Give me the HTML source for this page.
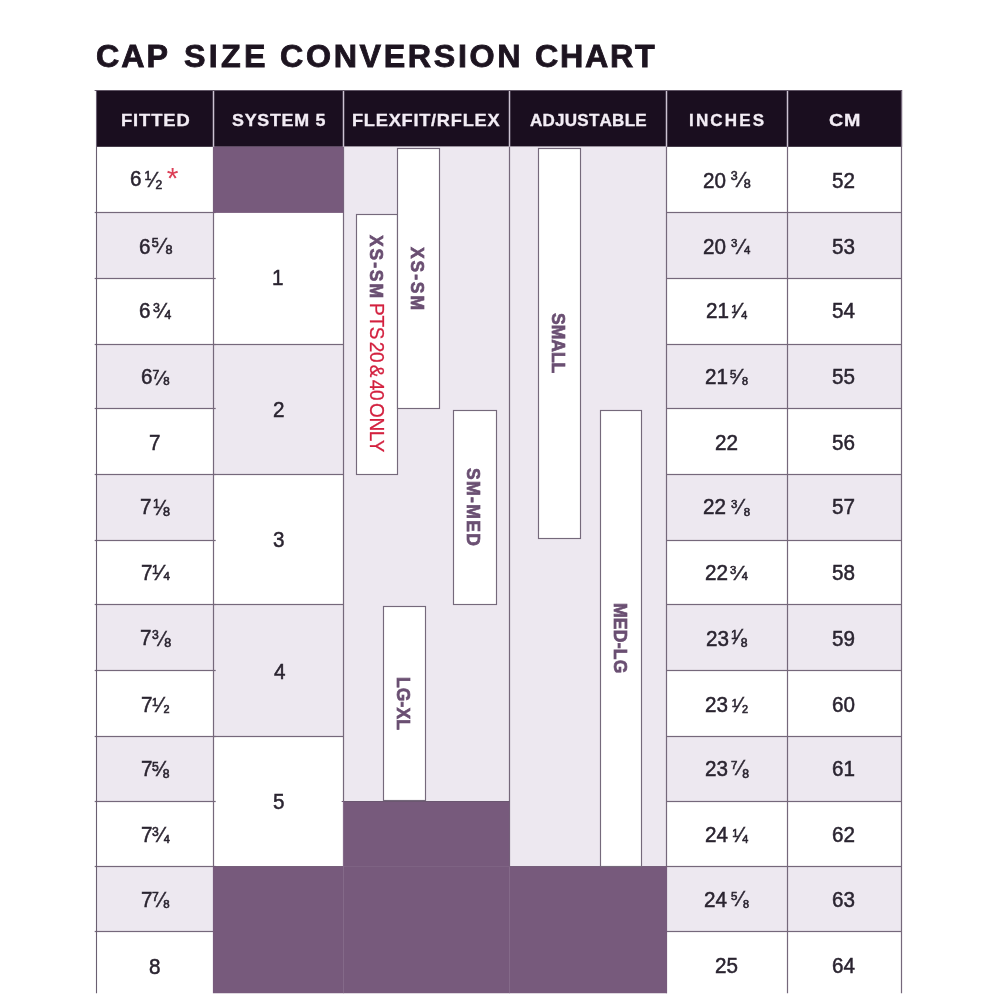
<!DOCTYPE html>
<html lang="en"><head><meta charset="utf-8"><title>Cap Size Conversion Chart</title>
<style>
html,body{margin:0;padding:0;background:#fff;}
body{width:1000px;height:1000px;position:relative;overflow:hidden;font-family:"Liberation Sans",Arial,sans-serif;color:#2a2430;font-kerning:none;}
svg{position:absolute;left:0;top:0;}
h1{position:absolute;margin:0;left:0;top:0;font-size:31px;line-height:31px;font-weight:bold;color:#1d1420;white-space:nowrap;-webkit-text-stroke:.8px #1d1420;}
h1 span{position:absolute;top:40.5px;transform-origin:0 50%;}
.h{position:absolute;top:109.5px;-webkit-text-stroke:.3px #f3edf5;height:20px;line-height:20px;color:#f3edf5;font-weight:bold;font-size:16.4px;white-space:nowrap;transform-origin:0 50%;}
.d,.n,.s{position:absolute;white-space:nowrap;transform-origin:0 0;-webkit-text-stroke:.5px #2a2430;}
.n{-webkit-text-stroke:.6px #2a2430;}
.s{-webkit-text-stroke:.45px #2a2430;}
.v{position:absolute;display:flex;align-items:center;justify-content:center;writing-mode:vertical-rl;white-space:nowrap;font-weight:bold;font-size:17.5px;line-height:20px;color:#6a4f72;-webkit-text-stroke:.65px #6a4f72;}
.red{color:#d3213f;}
.star{color:#dc3f56;}
</style></head><body>

<svg width="1000" height="1000" viewBox="0 0 1000 1000">
<rect x="96.40" y="90.50" width="805.70" height="56.30" fill="#1a0e1f"/>
<rect x="96.20" y="212.50" width="117.30" height="66.00" fill="#ede8f0"/>
<rect x="96.20" y="344.50" width="117.30" height="64.00" fill="#ede8f0"/>
<rect x="96.20" y="474.50" width="117.30" height="66.00" fill="#ede8f0"/>
<rect x="96.20" y="604.50" width="117.30" height="66.00" fill="#ede8f0"/>
<rect x="96.20" y="736.50" width="117.30" height="65.00" fill="#ede8f0"/>
<rect x="96.20" y="866.50" width="117.30" height="65.00" fill="#ede8f0"/>
<rect x="666.50" y="212.50" width="121.00" height="66.00" fill="#ede8f0"/>
<rect x="666.50" y="344.50" width="121.00" height="64.00" fill="#ede8f0"/>
<rect x="666.50" y="474.50" width="121.00" height="66.00" fill="#ede8f0"/>
<rect x="666.50" y="604.50" width="121.00" height="66.00" fill="#ede8f0"/>
<rect x="666.50" y="736.50" width="121.00" height="65.00" fill="#ede8f0"/>
<rect x="666.50" y="866.50" width="121.00" height="65.00" fill="#ede8f0"/>
<rect x="787.50" y="212.50" width="114.00" height="66.00" fill="#ede8f0"/>
<rect x="787.50" y="344.50" width="114.00" height="64.00" fill="#ede8f0"/>
<rect x="787.50" y="474.50" width="114.00" height="66.00" fill="#ede8f0"/>
<rect x="787.50" y="604.50" width="114.00" height="66.00" fill="#ede8f0"/>
<rect x="787.50" y="736.50" width="114.00" height="65.00" fill="#ede8f0"/>
<rect x="787.50" y="866.50" width="114.00" height="65.00" fill="#ede8f0"/>
<rect x="213.50" y="344.50" width="130.00" height="130.00" fill="#ede8f0"/>
<rect x="213.50" y="604.50" width="130.00" height="132.00" fill="#ede8f0"/>
<rect x="343.50" y="146.50" width="166.00" height="655.00" fill="#ede8f0"/>
<rect x="509.50" y="146.50" width="157.00" height="720.00" fill="#ede8f0"/>
<rect x="94.70" y="211.90" width="121.00" height="1.20" fill="#75687b"/>
<rect x="666.50" y="211.90" width="235.00" height="1.20" fill="#75687b"/>
<rect x="94.70" y="277.90" width="121.00" height="1.20" fill="#75687b"/>
<rect x="666.50" y="277.90" width="235.00" height="1.20" fill="#75687b"/>
<rect x="94.70" y="343.90" width="121.00" height="1.20" fill="#75687b"/>
<rect x="666.50" y="343.90" width="235.00" height="1.20" fill="#75687b"/>
<rect x="94.70" y="407.90" width="121.00" height="1.20" fill="#75687b"/>
<rect x="666.50" y="407.90" width="235.00" height="1.20" fill="#75687b"/>
<rect x="94.70" y="473.90" width="121.00" height="1.20" fill="#75687b"/>
<rect x="666.50" y="473.90" width="235.00" height="1.20" fill="#75687b"/>
<rect x="94.70" y="539.90" width="121.00" height="1.20" fill="#75687b"/>
<rect x="666.50" y="539.90" width="235.00" height="1.20" fill="#75687b"/>
<rect x="94.70" y="603.90" width="121.00" height="1.20" fill="#75687b"/>
<rect x="666.50" y="603.90" width="235.00" height="1.20" fill="#75687b"/>
<rect x="94.70" y="669.90" width="121.00" height="1.20" fill="#75687b"/>
<rect x="666.50" y="669.90" width="235.00" height="1.20" fill="#75687b"/>
<rect x="94.70" y="735.90" width="121.00" height="1.20" fill="#75687b"/>
<rect x="666.50" y="735.90" width="235.00" height="1.20" fill="#75687b"/>
<rect x="94.70" y="800.90" width="121.00" height="1.20" fill="#75687b"/>
<rect x="666.50" y="800.90" width="235.00" height="1.20" fill="#75687b"/>
<rect x="94.70" y="865.90" width="121.00" height="1.20" fill="#75687b"/>
<rect x="666.50" y="865.90" width="235.00" height="1.20" fill="#75687b"/>
<rect x="94.70" y="930.90" width="121.00" height="1.20" fill="#75687b"/>
<rect x="666.50" y="930.90" width="235.00" height="1.20" fill="#75687b"/>
<rect x="213.50" y="343.90" width="130.00" height="1.20" fill="#75687b"/>
<rect x="213.50" y="473.90" width="130.00" height="1.20" fill="#75687b"/>
<rect x="213.50" y="603.90" width="130.00" height="1.20" fill="#75687b"/>
<rect x="213.50" y="735.90" width="130.00" height="1.20" fill="#75687b"/>
<rect x="95.95" y="90.50" width="1.10" height="903.00" fill="#6a5f71"/>
<rect x="212.90" y="146.50" width="1.20" height="720.00" fill="#75687b"/>
<rect x="342.90" y="146.50" width="1.20" height="655.00" fill="#75687b"/>
<rect x="508.90" y="146.50" width="1.20" height="720.00" fill="#75687b"/>
<rect x="665.90" y="146.50" width="1.20" height="847.00" fill="#75687b"/>
<rect x="786.90" y="146.50" width="1.20" height="847.00" fill="#75687b"/>
<rect x="900.90" y="90.00" width="1.20" height="903.50" fill="#75687b"/>
<rect x="213.20" y="146.50" width="130.30" height="66.40" fill="#775a7c"/>
<rect x="212.90" y="866.20" width="454.10" height="127.30" fill="#775a7c"/>
<rect x="342.90" y="801.20" width="166.60" height="65.50" fill="#775a7c"/>
<rect x="341.70" y="801.00" width="167.80" height="1.00" fill="#6a5670"/>
<rect x="509.50" y="866.10" width="157.00" height="0.80" fill="#6f5874"/>
<rect x="213.50" y="866.10" width="130.00" height="0.80" fill="#6f5874"/>
<rect x="343.00" y="801.50" width="1.00" height="192.00" fill="#846a89"/>
<rect x="509.00" y="866.50" width="1.00" height="127.00" fill="#846a89"/>
<rect x="212.75" y="90.60" width="1.50" height="56.20" fill="#cbc2d1"/>
<rect x="342.75" y="90.60" width="1.50" height="56.20" fill="#cbc2d1"/>
<rect x="508.75" y="90.60" width="1.50" height="56.20" fill="#cbc2d1"/>
<rect x="665.75" y="90.60" width="1.50" height="56.20" fill="#cbc2d1"/>
<rect x="786.75" y="90.60" width="1.50" height="56.20" fill="#cbc2d1"/>
<rect x="94.60" y="90.05" width="807.50" height="0.90" fill="#5d5163"/>
<rect x="356.50" y="214.50" width="41.00" height="260.00" fill="#fff" stroke="#75697b" stroke-width="1.15"/>
<rect x="397.50" y="148.50" width="42.00" height="260.00" fill="#fff" stroke="#75697b" stroke-width="1.15"/>
<rect x="453.50" y="410.50" width="43.00" height="194.00" fill="#fff" stroke="#75697b" stroke-width="1.15"/>
<rect x="383.50" y="606.50" width="42.00" height="194.00" fill="#fff" stroke="#75697b" stroke-width="1.15"/>
<rect x="538.50" y="148.50" width="42.00" height="390.00" fill="#fff" stroke="#75697b" stroke-width="1.15"/>
<rect x="600.50" y="410.50" width="41.00" height="456.00" fill="#fff" stroke="#75697b" stroke-width="1.15"/>
<rect x="0.00" y="993.50" width="1000.00" height="6.50" fill="#fff"/>
</svg>
<h1>
<span style="left:95.68px;letter-spacing:1.90px;transform:scaleX(1.040);">CAP</span> 
<span style="left:184.07px;letter-spacing:3.18px;transform:scaleX(1.040);">SIZE</span> 
<span style="left:280.28px;letter-spacing:2.54px;transform:scaleX(1.040);">CONVERSION</span> 
<span style="left:534.68px;letter-spacing:1.65px;transform:scaleX(1.040);">CHART</span> 
</h1>
<div class="h" style="left:120.77px;letter-spacing:0.80px;transform:scaleX(1.120);">FITTED</div>
<div class="h" style="left:231.99px;letter-spacing:0.67px;transform:scaleX(1.090);">SYSTEM 5</div>
<div class="h" style="left:352.18px;letter-spacing:0.68px;transform:scaleX(1.110);">FLEXFIT/RFLEX</div>
<div class="h" style="left:529.78px;letter-spacing:0.22px;transform:scaleX(1.040);">ADJUSTABLE</div>
<div class="h" style="left:688.86px;letter-spacing:2.07px;transform:scaleX(1.040);">INCHES</div>
<div class="h" style="left:828.69px;letter-spacing:0.60px;transform:scaleX(1.200);">CM</div>
<div class="v" style="left:396.20px;top:149.95px;width:41.90px;height:260.00px;letter-spacing:1.90px;transform:scaleX(1.05);">XS-SM</div>
<div class="v" style="left:355.60px;top:214.15px;width:41.60px;height:259.40px;letter-spacing:1.90px;transform:scaleX(1.05);">XS-SM<span style="font-size:1px;letter-spacing:0"> </span><span class="red" style="font-weight:normal;-webkit-text-stroke:.25px #d3213f;letter-spacing:-.26px;word-spacing:-2.5px;font-size:19px;margin-top:3.3px">PTS 20 &amp; 40 ONLY</span></div>
<div class="v" style="left:451.80px;top:410.70px;width:43.00px;height:194.00px;letter-spacing:1.40px;transform:scaleX(1.05);">SM-MED</div>
<div class="v" style="left:381.80px;top:605.85px;width:42.80px;height:194.40px;letter-spacing:0.10px;transform:scaleX(1.05);">LG-XL</div>
<div class="v" style="left:537.20px;top:148.60px;width:42.50px;height:389.90px;letter-spacing:0.00px;transform:scaleX(1.05);">SMALL</div>
<div class="v" style="left:600.00px;top:410.82px;width:41.10px;height:455.50px;letter-spacing:0.25px;transform:scaleX(1.05);">MED-LG</div>
<div class="d" style="left:129.65px;top:169.40px;font-size:21.50px;line-height:21.50px;transform:scaleX(0.960);">6</div>
<div class="n" style="left:144.45px;top:170.28px;font-size:12.43px;line-height:12.43px;">1</div>
<div class="n" style="left:155.53px;top:179.04px;font-size:12.00px;line-height:12.00px;">2</div>
<div class="s" style="left:151.58px;top:167.50px;font-size:22.67px;line-height:22.67px;transform:scaleX(0.951);">⁄</div>
<div class="d" style="left:138.70px;top:236.70px;font-size:21.50px;line-height:21.50px;transform:scaleX(0.960);">6</div>
<div class="n" style="left:151.75px;top:236.57px;font-size:12.50px;line-height:12.50px;">5</div>
<div class="n" style="left:165.54px;top:244.23px;font-size:12.60px;line-height:12.60px;">8</div>
<div class="s" style="left:161.25px;top:235.29px;font-size:21.80px;line-height:21.80px;transform:scaleX(0.961);">⁄</div>
<div class="d" style="left:139.45px;top:300.50px;font-size:21.50px;line-height:21.50px;transform:scaleX(0.960);">6</div>
<div class="n" style="left:153.03px;top:301.88px;font-size:12.43px;line-height:12.43px;">3</div>
<div class="n" style="left:164.60px;top:309.22px;font-size:12.14px;line-height:12.14px;">4</div>
<div class="s" style="left:160.75px;top:300.04px;font-size:21.80px;line-height:21.80px;transform:scaleX(0.961);">⁄</div>
<div class="d" style="left:140.95px;top:366.70px;font-size:21.50px;line-height:21.50px;transform:scaleX(0.960);">6</div>
<div class="n" style="left:152.38px;top:368.72px;font-size:12.14px;line-height:12.14px;">7</div>
<div class="n" style="left:163.14px;top:375.72px;font-size:11.43px;line-height:11.43px;">8</div>
<div class="s" style="left:159.75px;top:366.66px;font-size:21.08px;line-height:21.08px;transform:scaleX(0.994);">⁄</div>
<div class="d" style="left:149.14px;top:432.70px;font-size:21.50px;line-height:21.50px;transform:scaleX(0.960);">7</div>
<div class="d" style="left:140.44px;top:496.70px;font-size:21.50px;line-height:21.50px;transform:scaleX(0.960);">7</div>
<div class="n" style="left:153.08px;top:498.47px;font-size:12.14px;line-height:12.14px;">1</div>
<div class="n" style="left:163.04px;top:505.98px;font-size:12.60px;line-height:12.60px;">8</div>
<div class="s" style="left:159.90px;top:496.73px;font-size:22.17px;line-height:22.17px;transform:scaleX(0.923);">⁄</div>
<div class="d" style="left:140.94px;top:562.70px;font-size:21.50px;line-height:21.50px;transform:scaleX(0.960);">7</div>
<div class="n" style="left:151.98px;top:564.22px;font-size:12.14px;line-height:12.14px;">1</div>
<div class="n" style="left:163.48px;top:571.32px;font-size:11.43px;line-height:11.43px;">4</div>
<div class="s" style="left:159.46px;top:561.54px;font-size:21.80px;line-height:21.80px;transform:scaleX(1.007);">⁄</div>
<div class="d" style="left:139.94px;top:628.20px;font-size:21.50px;line-height:21.50px;transform:scaleX(0.960);">7</div>
<div class="n" style="left:152.04px;top:628.62px;font-size:12.14px;line-height:12.14px;">3</div>
<div class="n" style="left:164.13px;top:636.58px;font-size:12.43px;line-height:12.43px;">8</div>
<div class="s" style="left:160.55px;top:627.54px;font-size:21.80px;line-height:21.80px;transform:scaleX(0.916);">⁄</div>
<div class="d" style="left:140.94px;top:694.70px;font-size:21.50px;line-height:21.50px;transform:scaleX(0.960);">7</div>
<div class="n" style="left:152.08px;top:697.36px;font-size:10.80px;line-height:10.80px;">1</div>
<div class="n" style="left:163.54px;top:703.66px;font-size:10.80px;line-height:10.80px;">2</div>
<div class="s" style="left:159.25px;top:693.54px;font-size:21.80px;line-height:21.80px;transform:scaleX(0.961);">⁄</div>
<div class="d" style="left:140.94px;top:758.70px;font-size:21.50px;line-height:21.50px;transform:scaleX(0.960);">7</div>
<div class="n" style="left:152.01px;top:760.62px;font-size:12.14px;line-height:12.14px;">5</div>
<div class="n" style="left:162.77px;top:768.12px;font-size:12.14px;line-height:12.14px;">8</div>
<div class="s" style="left:159.75px;top:758.04px;font-size:21.80px;line-height:21.80px;transform:scaleX(0.961);">⁄</div>
<div class="d" style="left:140.94px;top:824.70px;font-size:21.50px;line-height:21.50px;transform:scaleX(0.960);">7</div>
<div class="n" style="left:152.04px;top:825.62px;font-size:12.14px;line-height:12.14px;">3</div>
<div class="n" style="left:163.81px;top:833.86px;font-size:10.80px;line-height:10.80px;">4</div>
<div class="s" style="left:159.75px;top:823.54px;font-size:21.80px;line-height:21.80px;transform:scaleX(0.961);">⁄</div>
<div class="d" style="left:140.94px;top:890.20px;font-size:21.50px;line-height:21.50px;transform:scaleX(0.960);">7</div>
<div class="n" style="left:151.88px;top:890.72px;font-size:12.14px;line-height:12.14px;">7</div>
<div class="n" style="left:163.14px;top:898.72px;font-size:11.43px;line-height:11.43px;">8</div>
<div class="s" style="left:159.75px;top:889.04px;font-size:21.80px;line-height:21.80px;transform:scaleX(0.961);">⁄</div>
<div class="d" style="left:149.40px;top:956.60px;font-size:21.50px;line-height:21.50px;transform:scaleX(0.960);">8</div>
<div class="d" style="left:702.86px;top:170.90px;font-size:21.50px;line-height:21.50px;transform:scaleX(0.960);">20</div>
<div class="n" style="left:730.73px;top:170.48px;font-size:12.43px;line-height:12.43px;">3</div>
<div class="n" style="left:743.65px;top:178.16px;font-size:12.57px;line-height:12.57px;">8</div>
<div class="s" style="left:740.38px;top:169.37px;font-size:22.24px;line-height:22.24px;transform:scaleX(0.969);">⁄</div>
<div class="d" style="left:832.37px;top:170.90px;font-size:21.50px;line-height:21.50px;transform:scaleX(0.960);">52</div>
<div class="d" style="left:703.46px;top:236.70px;font-size:21.50px;line-height:21.50px;transform:scaleX(0.960);">20</div>
<div class="n" style="left:731.06px;top:237.72px;font-size:11.43px;line-height:11.43px;">3</div>
<div class="n" style="left:743.98px;top:245.32px;font-size:11.43px;line-height:11.43px;">4</div>
<div class="s" style="left:740.25px;top:235.54px;font-size:21.80px;line-height:21.80px;transform:scaleX(0.961);">⁄</div>
<div class="d" style="left:832.37px;top:236.70px;font-size:21.50px;line-height:21.50px;transform:scaleX(0.960);">53</div>
<div class="d" style="left:705.96px;top:301.20px;font-size:21.50px;line-height:21.50px;transform:scaleX(0.960);">21</div>
<div class="n" style="left:731.13px;top:304.32px;font-size:11.43px;line-height:11.43px;">1</div>
<div class="n" style="left:741.31px;top:310.36px;font-size:10.80px;line-height:10.80px;">4</div>
<div class="s" style="left:737.46px;top:300.04px;font-size:21.80px;line-height:21.80px;transform:scaleX(1.007);">⁄</div>
<div class="d" style="left:832.37px;top:301.20px;font-size:21.50px;line-height:21.50px;transform:scaleX(0.960);">54</div>
<div class="d" style="left:705.46px;top:366.70px;font-size:21.50px;line-height:21.50px;transform:scaleX(0.960);">21</div>
<div class="n" style="left:730.04px;top:368.72px;font-size:11.43px;line-height:11.43px;">5</div>
<div class="n" style="left:741.96px;top:375.76px;font-size:10.80px;line-height:10.80px;">8</div>
<div class="s" style="left:737.46px;top:365.54px;font-size:21.80px;line-height:21.80px;transform:scaleX(1.007);">⁄</div>
<div class="d" style="left:832.37px;top:366.70px;font-size:21.50px;line-height:21.50px;transform:scaleX(0.960);">55</div>
<div class="d" style="left:715.46px;top:432.70px;font-size:21.50px;line-height:21.50px;transform:scaleX(0.960);">22</div>
<div class="d" style="left:832.37px;top:432.70px;font-size:21.50px;line-height:21.50px;transform:scaleX(0.960);">56</div>
<div class="d" style="left:703.46px;top:497.20px;font-size:21.50px;line-height:21.50px;transform:scaleX(0.960);">22</div>
<div class="n" style="left:731.06px;top:499.22px;font-size:11.43px;line-height:11.43px;">3</div>
<div class="n" style="left:743.64px;top:506.72px;font-size:11.43px;line-height:11.43px;">8</div>
<div class="s" style="left:739.25px;top:496.42px;font-size:22.53px;line-height:22.53px;transform:scaleX(0.930);">⁄</div>
<div class="d" style="left:832.37px;top:497.20px;font-size:21.50px;line-height:21.50px;transform:scaleX(0.960);">57</div>
<div class="d" style="left:705.46px;top:562.70px;font-size:21.50px;line-height:21.50px;transform:scaleX(0.960);">22</div>
<div class="n" style="left:730.06px;top:564.72px;font-size:11.43px;line-height:11.43px;">3</div>
<div class="n" style="left:741.81px;top:571.36px;font-size:10.80px;line-height:10.80px;">4</div>
<div class="s" style="left:737.96px;top:561.66px;font-size:21.08px;line-height:21.08px;transform:scaleX(1.042);">⁄</div>
<div class="d" style="left:832.37px;top:562.70px;font-size:21.50px;line-height:21.50px;transform:scaleX(0.960);">58</div>
<div class="d" style="left:705.96px;top:628.70px;font-size:21.50px;line-height:21.50px;transform:scaleX(0.960);">23</div>
<div class="n" style="left:731.04px;top:628.83px;font-size:12.60px;line-height:12.60px;">1</div>
<div class="n" style="left:740.77px;top:636.62px;font-size:12.14px;line-height:12.14px;">8</div>
<div class="s" style="left:737.25px;top:626.42px;font-size:22.53px;line-height:22.53px;transform:scaleX(0.930);">⁄</div>
<div class="d" style="left:832.37px;top:628.70px;font-size:21.50px;line-height:21.50px;transform:scaleX(0.960);">59</div>
<div class="d" style="left:705.46px;top:694.70px;font-size:21.50px;line-height:21.50px;transform:scaleX(0.960);">23</div>
<div class="n" style="left:731.68px;top:697.86px;font-size:10.80px;line-height:10.80px;">1</div>
<div class="n" style="left:742.04px;top:703.86px;font-size:10.80px;line-height:10.80px;">2</div>
<div class="s" style="left:738.25px;top:693.54px;font-size:21.80px;line-height:21.80px;transform:scaleX(0.961);">⁄</div>
<div class="d" style="left:832.15px;top:694.70px;font-size:21.50px;line-height:21.50px;transform:scaleX(0.960);">60</div>
<div class="d" style="left:704.96px;top:758.70px;font-size:21.50px;line-height:21.50px;transform:scaleX(0.960);">23</div>
<div class="n" style="left:730.91px;top:760.32px;font-size:11.43px;line-height:11.43px;">7</div>
<div class="n" style="left:742.27px;top:768.12px;font-size:12.14px;line-height:12.14px;">8</div>
<div class="s" style="left:738.75px;top:757.49px;font-size:22.09px;line-height:22.09px;transform:scaleX(0.949);">⁄</div>
<div class="d" style="left:832.15px;top:758.70px;font-size:21.50px;line-height:21.50px;transform:scaleX(0.960);">61</div>
<div class="d" style="left:704.96px;top:824.70px;font-size:21.50px;line-height:21.50px;transform:scaleX(0.960);">24</div>
<div class="n" style="left:732.18px;top:827.86px;font-size:10.80px;line-height:10.80px;">1</div>
<div class="n" style="left:742.31px;top:833.86px;font-size:10.80px;line-height:10.80px;">4</div>
<div class="s" style="left:738.75px;top:823.54px;font-size:21.80px;line-height:21.80px;transform:scaleX(0.961);">⁄</div>
<div class="d" style="left:832.15px;top:824.70px;font-size:21.50px;line-height:21.50px;transform:scaleX(0.960);">62</div>
<div class="d" style="left:704.46px;top:890.20px;font-size:21.50px;line-height:21.50px;transform:scaleX(0.960);">24</div>
<div class="n" style="left:731.04px;top:891.22px;font-size:11.43px;line-height:11.43px;">5</div>
<div class="n" style="left:742.96px;top:899.26px;font-size:10.80px;line-height:10.80px;">8</div>
<div class="s" style="left:738.75px;top:888.42px;font-size:22.53px;line-height:22.53px;transform:scaleX(0.930);">⁄</div>
<div class="d" style="left:832.15px;top:890.20px;font-size:21.50px;line-height:21.50px;transform:scaleX(0.960);">63</div>
<div class="d" style="left:715.46px;top:956.20px;font-size:21.50px;line-height:21.50px;transform:scaleX(0.960);">25</div>
<div class="d" style="left:832.15px;top:956.20px;font-size:21.50px;line-height:21.50px;transform:scaleX(0.960);">64</div>
<div class="d star" style="left:166.7px;top:163px;font-size:30px;line-height:30px;-webkit-text-stroke:0;">*</div>
<div class="d" style="left:272.43px;top:268.30px;font-size:21.50px;line-height:21.50px;transform:scaleX(0.960);">1</div>
<div class="d" style="left:273.16px;top:399.70px;font-size:21.50px;line-height:21.50px;transform:scaleX(0.960);">2</div>
<div class="d" style="left:273.21px;top:529.70px;font-size:21.50px;line-height:21.50px;transform:scaleX(0.960);">3</div>
<div class="d" style="left:273.53px;top:661.70px;font-size:21.50px;line-height:21.50px;transform:scaleX(0.960);">4</div>
<div class="d" style="left:273.17px;top:791.70px;font-size:21.50px;line-height:21.50px;transform:scaleX(0.960);">5</div>
</body></html>
